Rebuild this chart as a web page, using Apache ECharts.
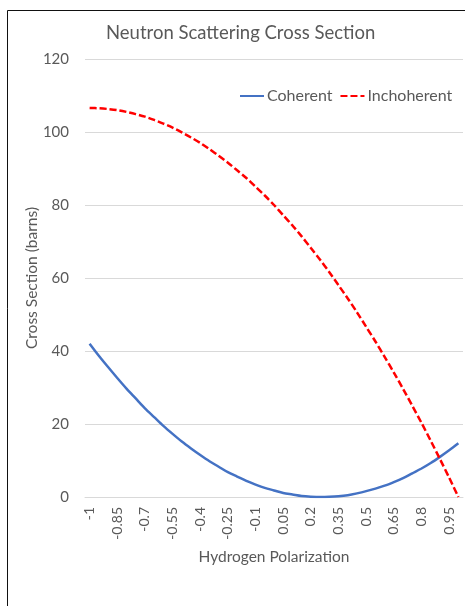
<!DOCTYPE html>
<html>
<head>
<meta charset="utf-8">
<script src="https://cdn.jsdelivr.net/npm/echarts@6/dist/echarts.min.js"></script>
<style>
html,body{margin:0;padding:0;background:#fff;}
#chart{width:465px;height:606px;}
</style>
</head>
<body>
<div id="chart"></div>
<script>
var categories = ["-1","-0.95","-0.9","-0.85","-0.8","-0.75","-0.7","-0.65","-0.6","-0.55","-0.5","-0.45","-0.4","-0.35","-0.3","-0.25","-0.2","-0.15","-0.1","-0.05","0","0.05","0.1","0.15","0.2","0.25","0.3","0.35","0.4","0.45","0.5","0.55","0.6","0.65","0.7","0.75","0.8","0.85","0.9","0.95","1"];
var coherent = [42.0,38.7,35.6,32.6,29.7,27.0,24.3,21.9,19.5,17.3,15.2,13.3,11.5,9.8,8.3,6.8,5.6,4.4,3.4,2.5,1.8,1.1,0.7,0.3,0.1,0.0,0.05,0.2,0.5,1.0,1.6,2.3,3.1,4.1,5.2,6.5,7.8,9.3,11.0,12.8,14.7];
var incoherent = [106.6,106.5,106.3,106.0,105.5,104.9,104.2,103.3,102.3,101.2,99.9,98.5,97.0,95.3,93.5,91.6,89.5,87.4,85.0,82.6,80.0,77.2,74.4,71.4,68.2,65.0,61.6,58.0,54.4,50.6,46.6,42.6,38.4,34.1,29.6,25.0,20.3,15.4,10.4,5.3,0.0];
var yTicks = [0,20,40,60,80,100,120];

var FONT = 'Lato';
var GRAY = '#595959';
var chart = echarts.init(document.getElementById('chart'), null, {renderer:'canvas'});
chart.setOption({
  animation:false,
  backgroundColor:'#fff',
  title:{
    text:'Neutron Scattering Cross Section',
    left:101, top:19,
    textStyle:{fontFamily:FONT,fontSize:18.5,fontWeight:'normal',color:GRAY}
  },
  legend:{
    left:239, top:88, padding:0,
    itemWidth:24, itemHeight:16, itemGap:7,
    itemStyle:{opacity:0},
    textStyle:{fontFamily:FONT,fontSize:16,color:GRAY,padding:[0,0,0,-2]},
    data:['Coherent','Inchoherent']
  },
  graphic:[{
    type:'rect', silent:true,
    shape:{x:7.5,y:10.5,width:600,height:700},
    style:{fill:'none',stroke:'#111',lineWidth:1}
  }],
  grid:{left:85,right:2,top:59,bottom:109,containLabel:false},
  xAxis:{
    type:'category',
    data:categories,
    boundaryGap:true,
    name:'Hydrogen Polarization',
    nameLocation:'middle',
    nameGap:52,
    nameMoveOverlap:false,
    nameTextStyle:{fontFamily:FONT,fontSize:15.5,color:GRAY},
    axisLine:{show:true,lineStyle:{color:'#D9D9D9',width:1}},
    axisTick:{show:false},
    axisLabel:{interval:2,rotate:90,margin:10,fontFamily:FONT,fontSize:14,color:GRAY},
    splitLine:{show:false}
  },
  yAxis:{
    type:'value',
    min:yTicks[0], max:yTicks[yTicks.length-1], interval:20,
    name:'Cross Section (barns)',
    nameLocation:'middle',
    nameGap:45,
    nameMoveOverlap:false,
    nameTextStyle:{fontFamily:FONT,fontSize:15.5,color:GRAY},
    axisLine:{show:false},
    axisTick:{show:false},
    axisLabel:{margin:16,fontFamily:FONT,fontSize:15,color:GRAY},
    splitLine:{lineStyle:{color:'#D9D9D9',width:1}}
  },
  series:[
    {name:'Coherent',type:'line',data:coherent,showSymbol:false,symbol:'none',smooth:0.3,
     lineStyle:{color:'#4472C4',width:2.5},itemStyle:{color:'#4472C4'}},
    {name:'Inchoherent',type:'line',data:incoherent,showSymbol:false,symbol:'none',smooth:0.3,
     lineStyle:{color:'#FF0000',width:2.5,type:[7,3]},itemStyle:{color:'#FF0000'}}
  ]
});
</script>
</body>
</html>
